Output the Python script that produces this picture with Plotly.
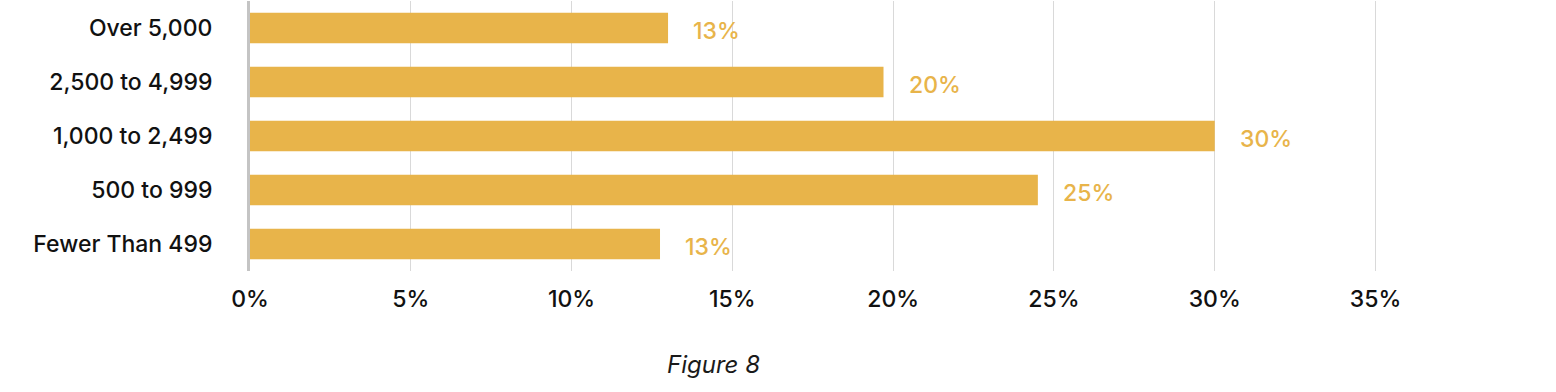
import plotly.graph_objects as go

categories = ["Fewer Than 499", "500 to 999", "1,000 to 2,499", "2,500 to 4,999", "Over 5,000"]
values = [0.1275, 0.245, 0.300, 0.197, 0.130]
value_labels = ["13%", "25%", "30%", "20%", "13%"]
tick_vals = [0, 0.05, 0.10, 0.15, 0.20, 0.25, 0.30, 0.35]
tick_text = ["0%", "5%", "10%", "15%", "20%", "25%", "30%", "35%"]

BAR = "#E8B44A"
FONT = "Inter"

W, H = 1556, 392
L, T, B, R = 250, 1, 121, 84

fig = go.Figure()
fig.add_trace(go.Bar(
    x=values, y=categories, orientation="h",
    marker=dict(color=BAR, line=dict(width=0)),
    hoverinfo="skip",
))

for v, c, t in zip(values, categories, value_labels):
    fig.add_annotation(
        x=v, y=c, xref="x", yref="y", text=t, showarrow=False,
        xanchor="left", yanchor="middle", xshift=23, yshift=-3,
        font=dict(family=FONT, size=23, color=BAR, weight=500),
    )

fig.add_annotation(
    x=(713 - L) / (W - L - R), y=1 - (364 - T) / (H - T - B),
    xref="paper", yref="paper", text="<i>Figure 8</i>",
    showarrow=False, xanchor="center", yanchor="middle",
    font=dict(family=FONT, size=24, color="#1a1a1a", weight=400),
)

fig.update_layout(
    width=W, height=H,
    margin=dict(l=L, r=R, t=T, b=B, pad=0, autoexpand=False),
    plot_bgcolor="white", paper_bgcolor="white",
    showlegend=False,
    bargap=0.435,
    font=dict(family=FONT, size=23, color="#111111", weight=500),
    xaxis=dict(
        range=[0, 0.38], tickvals=tick_vals, ticktext=tick_text,
        showgrid=True, gridcolor="#d9d9d9", gridwidth=1,
        zeroline=False, showline=False, ticks="",
        ticklabelstandoff=12, automargin=False,
        tickfont=dict(family=FONT, size=23, color="#111111", weight=500),
    ),
    yaxis=dict(
        showline=True, linecolor="#c4c4c4", linewidth=3,
        showgrid=False, zeroline=False, ticks="",
        ticklabelstandoff=30, automargin=False,
        tickfont=dict(family=FONT, size=23, color="#111111", weight=500),
        range=[-0.5, 4.5],
    ),
)

fig.write_html("out.html", config={"displayModeBar": False},
               post_script="document.body.style.margin='0';")
